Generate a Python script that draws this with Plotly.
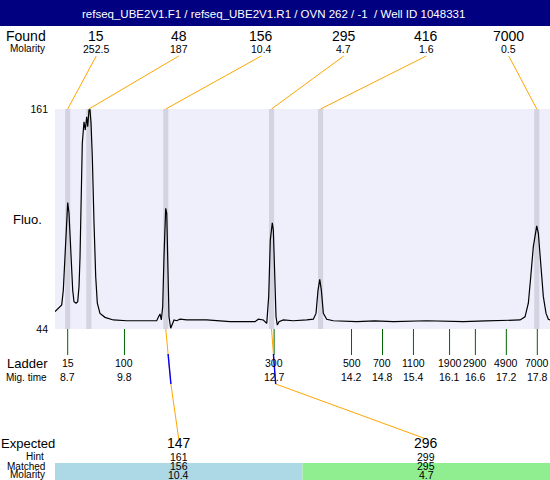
import plotly.graph_objects as go

# ---------------- data ----------------
title_text = "refseq_UBE2V1.F1 / refseq_UBE2V1.R1 / OVN 262 / -1 \u00a0/ Well ID 1048331"

found_size = [15, 48, 156, 295, 416, 7000]
found_molarity = ["252.5", "187", "10.4", "4.7", "1.6", "0.5"]
found_time = [8.70, 9.11, 10.60, 12.65, 13.60, 17.79]

ladder_size = [15, 100, 300, 500, 700, 1100, 1900, 2900, 4900, 7000]
ladder_time = [8.7, 9.8, 12.7, 14.2, 14.8, 15.4, 16.1, 16.6, 17.2, 17.8]

expected_size = [147, 296]
expected_hint = [161, 299]
expected_matched = [156, 295]
expected_molarity = ["10.4", "4.7"]
expected_time = [10.70, 12.73]
expected_found_index = [2, 3]
expected_colors = ["#ADD8E6", "#90EE90"]

trace_time = [8.454, 8.518, 8.584, 8.615, 8.648, 8.681, 8.700, 8.725, 8.758, 8.797,
              8.822, 8.861, 8.894, 8.919, 8.939, 8.958, 8.983, 9.016, 9.041, 9.068,
              9.088, 9.113, 9.132, 9.152, 9.177, 9.210, 9.243, 9.274, 9.326, 9.423,
              9.584, 9.844, 10.10, 10.30, 10.425, 10.456, 10.489, 10.514, 10.541, 10.566,
              10.599, 10.619, 10.638, 10.663, 10.696, 10.727, 10.760, 10.812, 10.876, 11.006,
              11.394, 11.845, 12.330, 12.394, 12.491, 12.557, 12.595, 12.626, 12.665, 12.685,
              12.712, 12.737, 12.762, 12.795, 12.878, 13.072, 13.332, 13.460, 13.512, 13.551,
              13.584, 13.615, 13.654, 13.719, 13.847, 14.301, 14.65, 15.010, 15.657, 16.367,
              16.80, 17.078, 17.466, 17.562, 17.626, 17.673, 17.723, 17.789, 17.820, 17.866,
              17.917, 17.969, 18.014, 18.046]
trace_fluo = [53.2, 55.0, 56.8, 64.7, 86.0, 103.7, 111.2, 105.7, 82.4, 64.7,
              58.5, 57.7, 58.5, 66.5, 82.4, 117.9, 142.8, 154.2, 149.8, 156.9,
              151.6, 160.5, 160.5, 153.6, 135.6, 100.4, 71.8, 57.7, 52.3, 50.2,
              48.8, 48.4, 48.4, 48.6, 48.4, 50.2, 52.0, 48.8, 55.9, 82.4,
              108.2, 105.5, 82.4, 50.5, 44.4, 47.0, 48.8, 48.4, 49.2, 48.8,
              48.8, 47.9, 47.9, 49.2, 48.8, 47.0, 61.2, 91.3, 100.5, 96.6,
              64.7, 50.5, 46.1, 47.9, 48.8, 48.4, 48.8, 49.2, 52.3, 64.7,
              70.4, 64.7, 52.3, 49.2, 48.4, 47.9, 48.3, 47.9, 48.4, 47.9,
              48.3, 48.4, 48.8, 50.5, 57.7, 71.8, 87.8, 98.8, 94.9, 79.0,
              61.2, 52.3, 49.2, 48.8]

# ---------------- layout geometry ----------------
W, H = 550, 480
X_RANGE = [8.454, 18.046]
Y_RANGE = [44, 161]
PLOT_L, PLOT_R = 55, 550
PLOT_T, PLOT_B = 109, 329

FONT = "Liberation Sans, Arial, sans-serif"
ORANGE = "#FFA500"


def px(x):
    return x / W


def py(y):
    return 1 - y / H


def t2px(t):
    # map migration time through the x axis range onto the pixel grid
    return PLOT_L + (t - X_RANGE[0]) / (X_RANGE[1] - X_RANGE[0]) * (PLOT_R - PLOT_L)


annotations = []
shapes = []


def ann(text, x, y, size, color="black", xanchor="center"):
    annotations.append(dict(text=text, x=px(x), y=py(y), xref="paper", yref="paper",
                            xanchor=xanchor, yanchor="middle", showarrow=False,
                            borderpad=0, font=dict(family=FONT, size=size, color=color)))


fig = go.Figure()
fig.add_trace(go.Scatter(x=trace_time, y=trace_fluo, mode="lines",
                         line=dict(color="black", width=1.2),
                         hoverinfo="skip", showlegend=False))

# header bar
shapes.append(dict(type="rect", xref="paper", yref="paper", x0=0, x1=1,
                   y0=py(26), y1=1, fillcolor="#000080", line=dict(width=0), layer="below"))
ann(title_text, 273, 14, 11.5, color="white")

# peak bands
for t in found_time:
    shapes.append(dict(type="rect", xref="x", yref="y", x0=t - 0.05, x1=t + 0.05,
                       y0=Y_RANGE[0], y1=Y_RANGE[1], fillcolor="#D3D3E1",
                       line=dict(width=0), layer="below"))

# Found row
ann("Found", 26, 36, 14)
ann("Molarity", 27, 49, 10)
col_w = (PLOT_R - PLOT_L) / len(found_size)
for i, (s, m, t) in enumerate(zip(found_size, found_molarity, found_time)):
    cx = PLOT_L + col_w * (i + 0.5)
    ann(str(s), cx, 36, 14)
    ann(m, cx, 49, 10.5)
    shapes.append(dict(type="line", xref="paper", yref="paper",
                       x0=px(cx), y0=py(56), x1=px(t2px(t)), y1=py(PLOT_T),
                       line=dict(color=ORANGE, width=1)))

# y label
ann("Fluo.", 27, 220, 13)

# Ladder row
ann("Ladder", 27, 363, 13)
ann("Mig. time", 26.5, 377, 10)
for s, t in zip(ladder_size, ladder_time):
    x = t2px(t)
    shapes.append(dict(type="line", xref="paper", yref="paper",
                       x0=px(x), x1=px(x), y0=py(PLOT_B), y1=py(355),
                       line=dict(color="#006400", width=1)))
    ann(str(s), x, 363, 10.5)
    ann(str(t), x, 377, 10.5)

# Expected section
ann("Expected", 0, 443, 13, xanchor="left")
ann("Hint", 35, 456.5, 10)
ann("Matched", 26, 466, 10)
ann("Molarity", 27, 474.5, 10)
ecol_w = (PLOT_R - PLOT_L) / len(expected_size)
BLUE_TOP, BEND = 354, 384
for i in range(len(expected_size)):
    x0 = PLOT_L + ecol_w * i
    cx = x0 + ecol_w / 2
    shapes.append(dict(type="rect", xref="paper", yref="paper", x0=px(x0), x1=px(x0 + ecol_w),
                       y0=0, y1=py(463), fillcolor=expected_colors[i], line=dict(width=0),
                       layer="below"))
    bx = t2px(found_time[expected_found_index[i]])
    ex = t2px(expected_time[i])
    shapes.append(dict(type="path", xref="paper", yref="paper",
                       path=f"M {px(bx)} {py(PLOT_B)} L {px(ex)} {py(BEND)} L {px(cx)} {py(439)}",
                       line=dict(color=ORANGE, width=1)))
    # blue marker segment lying on the connector, from BLUE_TOP down to the bend
    bxt = bx + (ex - bx) * (BLUE_TOP - PLOT_B) / (BEND - PLOT_B)
    shapes.append(dict(type="line", xref="paper", yref="paper",
                       x0=px(bxt), x1=px(ex), y0=py(BLUE_TOP), y1=py(BEND),
                       line=dict(color="#0000FF", width=1.4)))
    ann(str(expected_size[i]), cx, 443, 14)
    ann(str(expected_hint[i]), cx, 456.5, 10.5)
    ann(str(expected_matched[i]), cx, 466, 10.5)
    ann(expected_molarity[i], cx, 474.5, 10.5)

fig.update_layout(
    width=W, height=H, margin=dict(l=0, r=0, t=0, b=0, autoexpand=False),
    autosize=False,
    paper_bgcolor="white", plot_bgcolor="#EFEFFC",
    showlegend=False, hovermode=False,
    xaxis=dict(domain=[px(PLOT_L), 1], range=X_RANGE, showgrid=False, zeroline=False,
               showticklabels=False, ticks="", showline=False, fixedrange=True,
               automargin=False),
    yaxis=dict(domain=[py(PLOT_B), py(PLOT_T)], range=Y_RANGE, showgrid=False, zeroline=False,
               tickvals=Y_RANGE, ticktext=[str(v) for v in Y_RANGE], ticks="",
               ticklabelstandoff=6, tickfont=dict(family=FONT, size=10.5, color="black"),
               showline=False, fixedrange=True, automargin=False),
    shapes=shapes, annotations=annotations,
)

fig.write_html("out.html", config={"responsive": False, "displayModeBar": False},
               post_script="document.body.style.margin='0';document.body.style.overflow='hidden';")
